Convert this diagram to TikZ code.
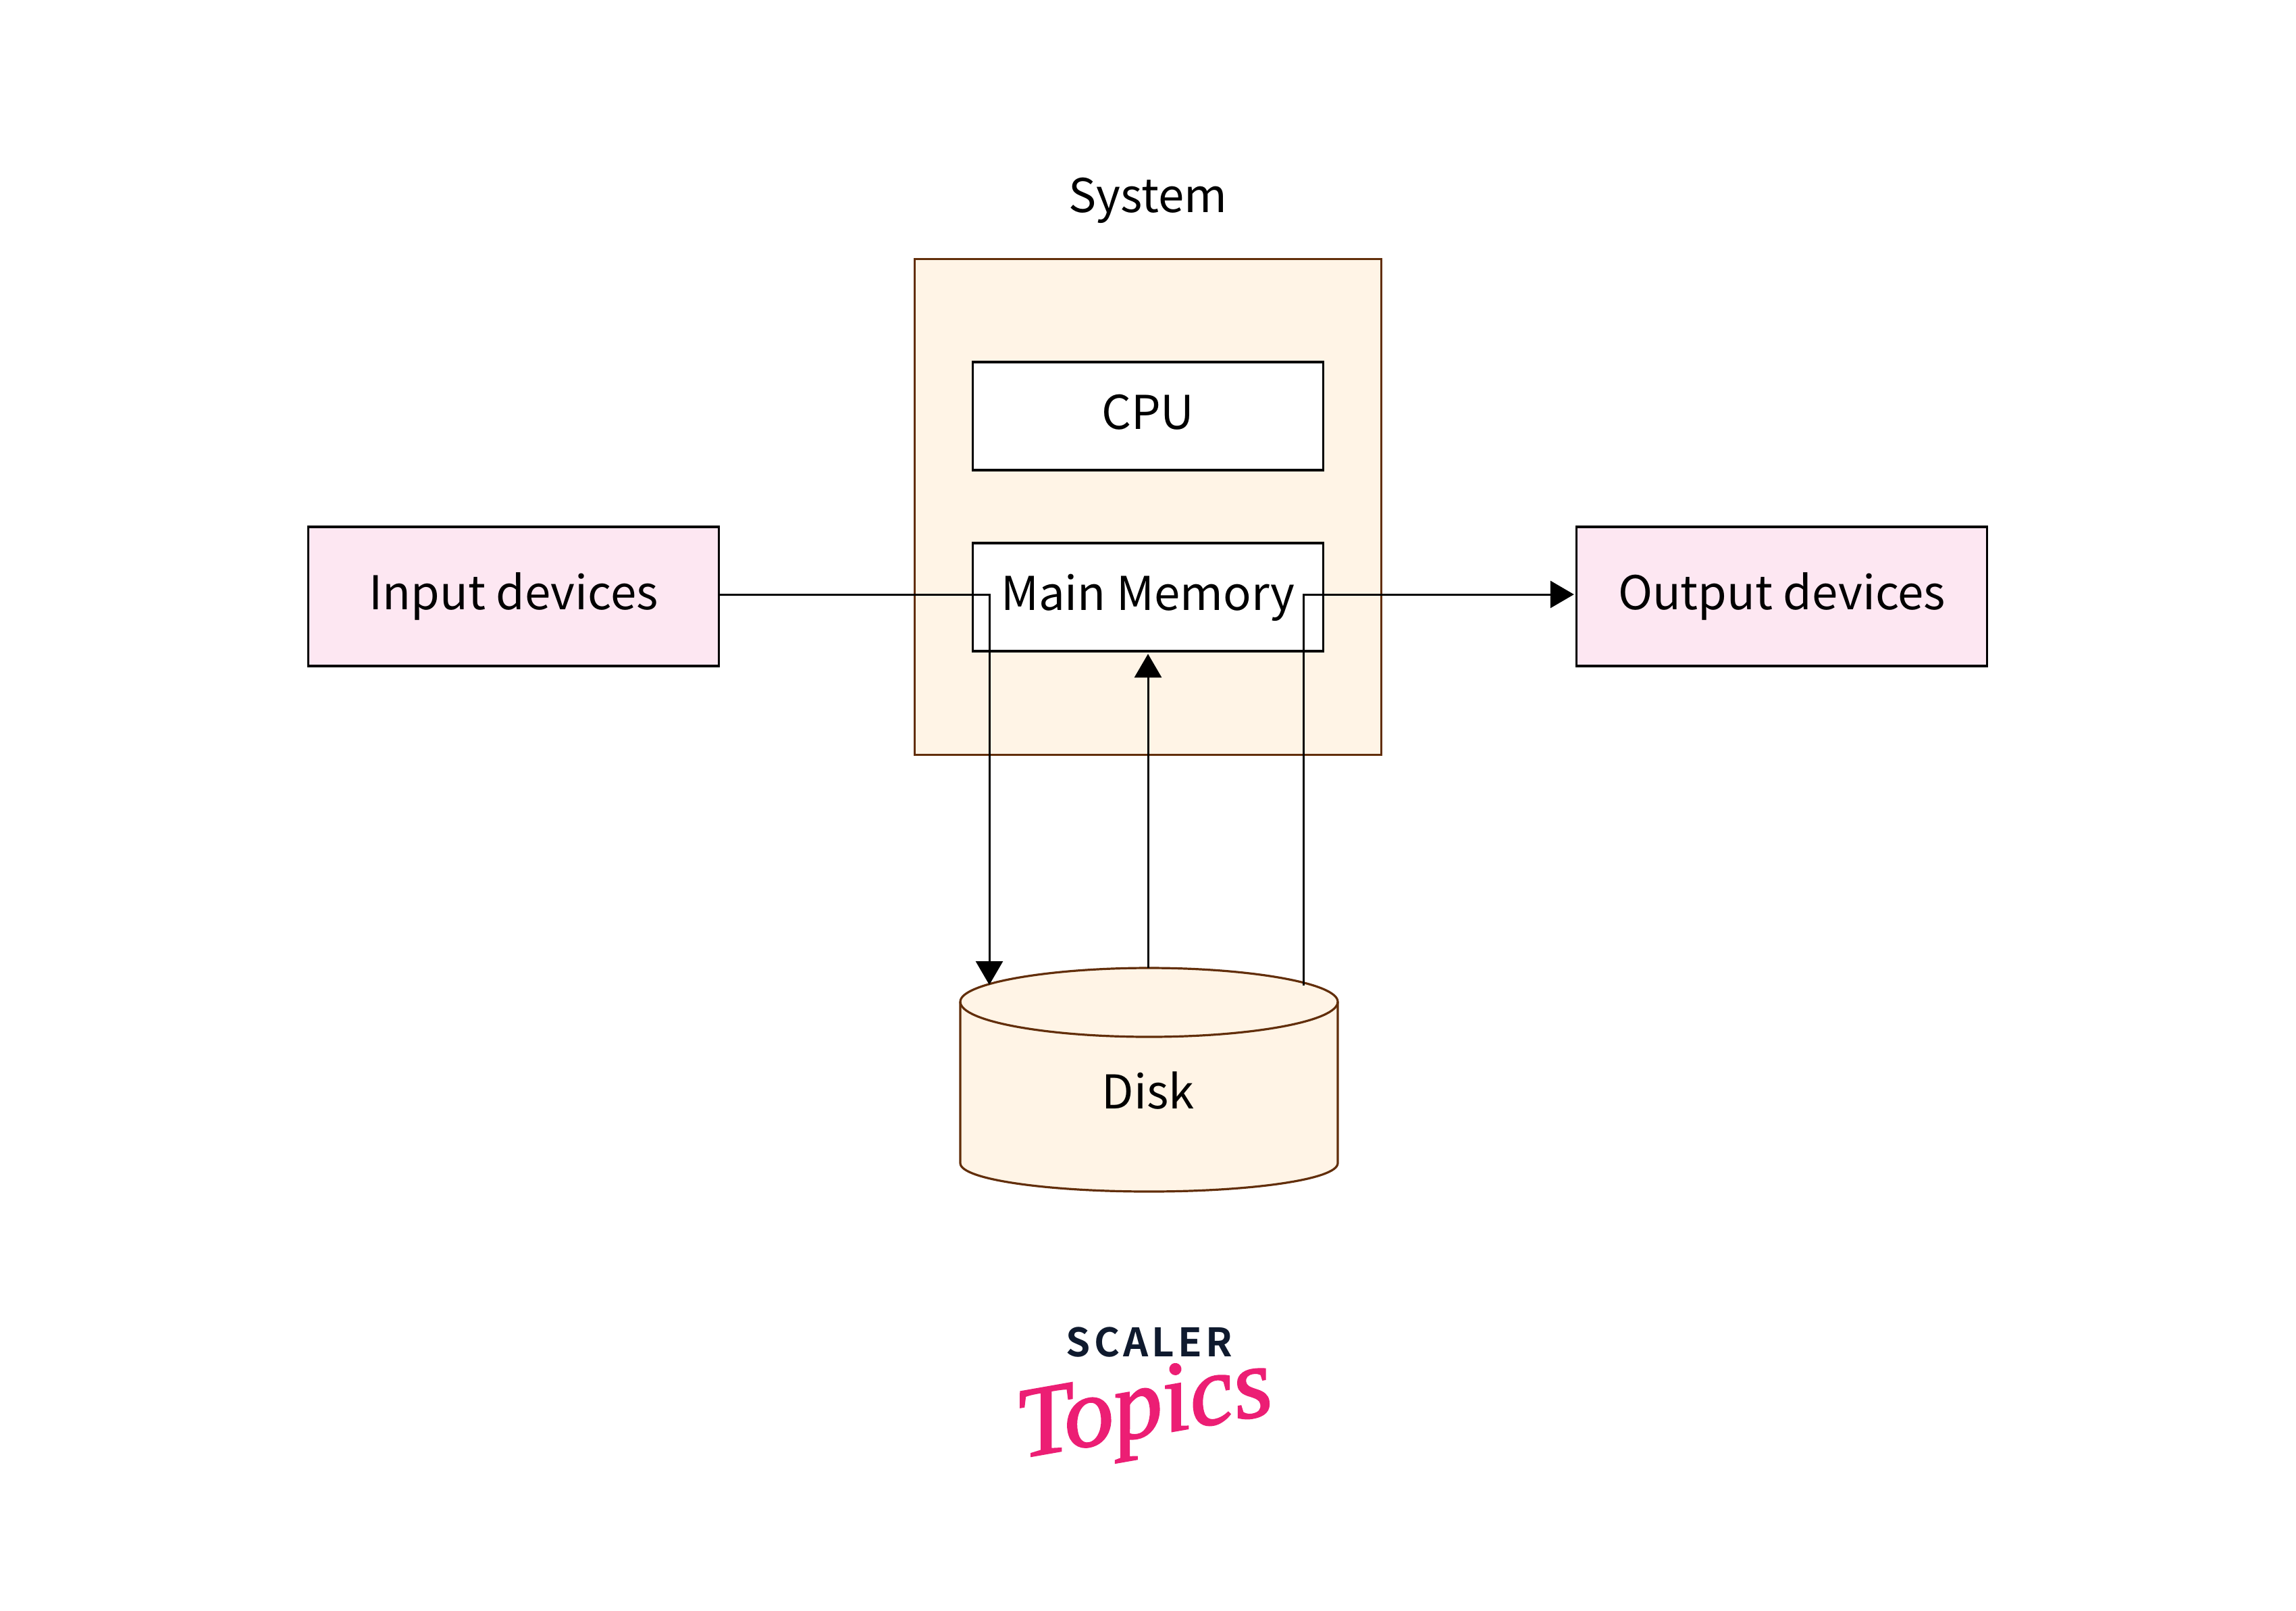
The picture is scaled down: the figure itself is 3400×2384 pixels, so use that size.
\documentclass[tikz,border=0pt]{standalone}
\usepackage{fontspec}
\usetikzlibrary{arrows.meta,calc}
\setmainfont{Noto Sans CJK SC}
\newfontfamily\logobold[LetterSpace=9]{Noto Sans CJK SC Bold}
\newfontfamily\logoscript[FakeBold=1.6]{Liberation Serif Italic}
\definecolor{sysfill}{HTML}{FFF4E6}
\definecolor{sysline}{HTML}{622E0A}
\definecolor{devfill}{HTML}{FDE7F2}
\definecolor{logonavy}{HTML}{0F1A2E}
\definecolor{logopink}{HTML}{EC1E74}
\tikzset{
  lbl/.style={font=\fontsize{19.6pt}{24pt}\selectfont,text=black,inner sep=0pt,outer sep=0pt,
    align=center,text height=0.6cm,text depth=0.22cm},
  syscontainer/.style={draw=sysline,fill=sysfill,line width=0.032cm,inner sep=0pt,outer sep=0pt},
  whitebox/.style={lbl,draw=black,fill=white,line width=0.032cm,minimum width=5.18cm,minimum height=1.6cm},
  devbox/.style={lbl,draw=black,fill=devfill,line width=0.032cm,minimum width=6.07cm,minimum height=2.06cm},
  conn/.style={draw=black,line width=0.03cm},
  arr/.style={-{Triangle[length=0.35cm,width=0.4cm]}},
}
\begin{document}
\begin{tikzpicture}[x=0.01cm,y=-0.01cm]
\useasboundingbox (0,0) rectangle (3400,2384);
\fill[white] (0,0) rectangle (3400,2384);
% system container
\node[syscontainer,minimum width=6.9cm,minimum height=7.33cm] (system) at (1700,750.5) {};
\node[lbl,anchor=base] (systemlabel) at (1700,314) {System};
\node[whitebox] (cpu) at (1700,616) {CPU};
\node[whitebox] (mem) at (1700,884) {Main Memory};
\node[devbox] (input) at (760.5,883) {Input devices};
\node[devbox] (output) at (2638.5,883) {Output devices};
% disk
\draw[syscontainer,line join=round] (1422,1483) -- (1422,1722)
  .. controls (1422,1746) and (1550,1764) .. (1701.5,1764)
  .. controls (1853,1764) and (1981,1746) .. (1981,1722) -- (1981,1483)
  .. controls (1981,1456) and (1853,1433) .. (1701.5,1433)
  .. controls (1550,1433) and (1422,1456) .. (1422,1483) -- cycle;
\draw[syscontainer,fill=none] (1422,1483)
  .. controls (1422,1512) and (1550,1535) .. (1701.5,1535)
  .. controls (1853,1535) and (1981,1512) .. (1981,1483);
\node[lbl] (disk) at (1700,1622) {Disk};
\coordinate (disktop) at (1700,1433);
\coordinate (diskin) at (1465,1458);
\coordinate (diskout) at (1930,1459);
\coordinate (inturn) at (1465,880);
\coordinate (outturn) at (1930,880);
\coordinate (instart) at (input.east |- inturn);
\coordinate (outend) at ($(output.west |- outturn)+(-4,0)$);
\coordinate (memin) at ($(mem.south)+(0,4)$);
% connectors
\draw[conn,arr] (instart) -- (inturn) -- (diskin);
\draw[conn,arr] (diskout) -- (outturn) -- (outend);
\draw[conn,arr] (disktop) -- (memin);
% logo
\node[anchor=base,inner sep=0pt,text=logonavy,font=\logobold\fontsize{16.5pt}{18pt}\selectfont] (scaler) at (1702,2008) {SCALER};
\node[anchor=base,inner sep=0pt,text=logopink,rotate=10,font=\logoscript\fontsize{42pt}{44pt}\selectfont] (topics) at (1702,2125) {Topics};
\end{tikzpicture}
\end{document}
